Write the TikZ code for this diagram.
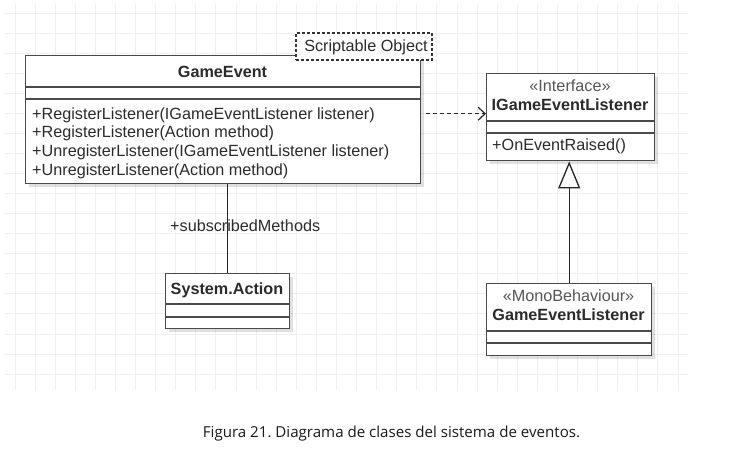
\documentclass[tikz,border=0pt]{standalone}
\usepackage{fontspec}
\setmainfont{Liberation Sans}
\newfontfamily\capfont{Open Sans}
\usetikzlibrary{arrows.meta,calc,shadows}
\definecolor{gridc}{HTML}{F0F0F0}
\definecolor{linec}{HTML}{4A4A4A}
\definecolor{txtc}{HTML}{2B2B2B}
\definecolor{stc}{HTML}{555555}
\frenchspacing
\begin{document}
\begin{tikzpicture}[x=1pt,y=-1pt,
  cls/.style={draw=linec,line width=1.4pt,fill=white,rectangle,inner sep=0pt,anchor=north west,
     drop shadow={shadow xshift=3pt,shadow yshift=-3pt,opacity=0.12,fill=black}},
  cmp/.style={draw=linec,line width=1.4pt},
  lbl/.style={inner sep=0pt,text=txtc,font=\fontsize{16.2}{18.7}\selectfont},
  blbl/.style={lbl,font=\fontsize{16.2}{18.7}\selectfont\bfseries},
  stlbl/.style={inner sep=0pt,text=stc,font=\fontsize{16.2}{18.7}\selectfont},
  conn/.style={draw=black!85,line width=1.3pt},
  depline/.style={conn,dash pattern=on 4pt off 3pt,-{Straight Barb[length=7pt,width=13pt,line width=1.2pt]}},
  genline/.style={conn,-{Triangle[open,length=27pt,width=22pt,line width=1.3pt,fill=white]}}
]
\useasboundingbox (0,0) rectangle (742,455);
\fill[white] (0,0) rectangle (742,455);
% grid
\foreach \i in {0,...,33} \draw[gridc,line width=0.9pt] ({15+20.09*\i},4) -- ({15+20.09*\i},390);
\foreach \j in {0,...,18} \draw[gridc,line width=0.9pt] (4,{13+20.06*\j}) -- (688,{13+20.06*\j});

% GameEvent
\node[cls,minimum width=395pt,minimum height=128pt] (ge) at (25,55) {};
\draw[cmp] (25,87) -- (420,87);
\draw[cmp] (25,99) -- (420,99);
\node[blbl,anchor=base] (getitle) at (222.5,77) {GameEvent};
\node[lbl,anchor=base west] (gem1) at (32,119) {+RegisterListener(IGameEventListener listener)};
\node[lbl,anchor=base west] (gem2) at (32,137.7) {+RegisterListener(Action method)};
\node[lbl,anchor=base west] (gem3) at (32,156.3) {+UnregisterListener(IGameEventListener listener)};
\node[lbl,anchor=base west] (gem4) at (32,175) {+UnregisterListener(Action method)};

% Scriptable Object tag
\node[draw=black!80,line width=1.2pt,dash pattern=on 3pt off 2pt,fill=white,inner sep=0pt,
      minimum width=136pt,minimum height=27pt] (so) at (364,46.5) {};
\node[lbl,anchor=base] (sotxt) at (366,51) {Scriptable Object};

% IGameEventListener
\node[cls,minimum width=168pt,minimum height=87pt] (ige) at (486,73) {};
\draw[cmp] (486,121) -- (654,121);
\draw[cmp] (486,133) -- (654,133);
\node[stlbl,anchor=base] (igest) at (570,91.7) {«Interface»};
\node[blbl,anchor=base] (igetitle) at (570,110) {IGameEventListener};
\node[lbl,anchor=base west] (igem1) at (492,150.7) {+OnEventRaised()};

% GameEventListener
\node[cls,minimum width=165pt,minimum height=72pt] (gel) at (486,283) {};
\draw[cmp] (486,331) -- (651,331);
\draw[cmp] (486,343) -- (651,343);
\node[stlbl,anchor=base] (gelst) at (568.5,301.7) {«MonoBehaviour»};
\node[blbl,anchor=base] (geltitle) at (568.5,320) {GameEventListener};

% System.Action
\node[cls,minimum width=124pt,minimum height=55pt] (sa) at (165,273) {};
\draw[cmp] (165,304) -- (289,304);
\draw[cmp] (165,317) -- (289,317);
\node[blbl,anchor=base] (satitle) at (227,294) {System.Action};

% connectors
\draw[conn] (sa.north) -- (sa.north |- ge.south);
\node[lbl,anchor=base west] (smlbl) at (170,231.7) {+subscribedMethods};
\draw[depline] ([xshift=5pt,yshift=3.5pt]ge.east |- ige.west) -- ([yshift=3.5pt]ige.west);
\draw[genline] (gel.north) -- (gel.north |- ige.south);

% caption
\node[inner sep=0pt,anchor=base,text=black!90,font=\capfont\fontsize{15.1}{17}\selectfont] (cap) at (391.5,437)
  {Figura 21. Diagrama de clases del sistema de eventos.};
\end{tikzpicture}
\end{document}
